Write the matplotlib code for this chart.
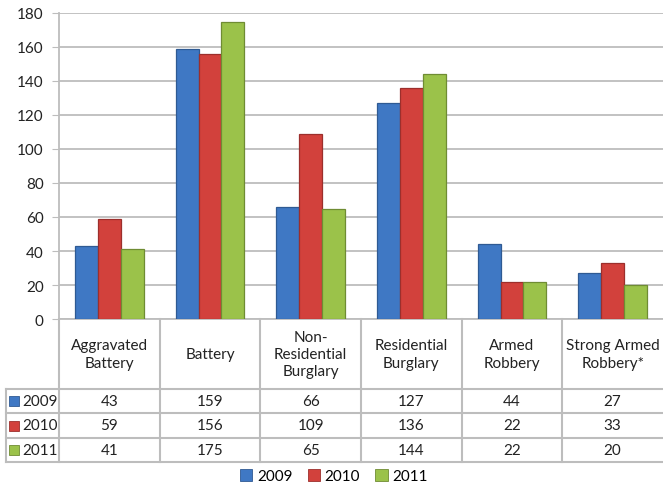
import numpy as np
import matplotlib.pyplot as plt
from matplotlib.patches import Rectangle
from matplotlib.lines import Line2D

categories = ["Aggravated\nBattery", "Battery", "Non-\nResidential\nBurglary",
              "Residential\nBurglary", "Armed\nRobbery", "Strong Armed\nRobbery*"]
years = ["2009", "2010", "2011"]
v2009 = [43, 159, 66, 127, 44, 27]
v2010 = [59, 156, 109, 136, 22, 33]
v2011 = [41, 175, 65, 144, 22, 20]
series = [v2009, v2010, v2011]
yticks = [0, 20, 40, 60, 80, 100, 120, 140, 160, 180]

colors = ["#3f78c4", "#d2413c", "#9bc24a"]
edges = ["#2f5a93", "#9c2f2c", "#6f8c33"]
grid_c = "#bdbdbd"

plt.rcParams['font.family'] = ['Lato', 'DejaVu Sans']

W, H = 663, 489
fig = plt.figure(figsize=(W / 100, H / 100), dpi=100)

x0, x1 = 59, 663
ytop, ybot = 14, 320
ax = fig.add_axes([x0 / W, 1 - ybot / H, (x1 - x0) / W, (ybot - ytop) / H])

n = len(categories)
x = np.arange(n) + 0.5
bw = 0.228
for k in range(3):
    ax.bar(x + (k - 1) * bw, series[k], width=bw, color=colors[k],
           edgecolor=edges[k], linewidth=0.9, zorder=3)

ax.set_xlim(0, n)
ax.set_ylim(0, 180)
ax.set_yticks(yticks)
ax.set_xticks([])
ax.tick_params(axis='y', length=5, color=grid_c, labelsize=11, labelcolor="#222222", pad=6)
ax.yaxis.grid(True, color=grid_c, linewidth=1.3, zorder=0)
for s in ["top", "right"]:
    ax.spines[s].set_visible(False)
for s in ["left", "bottom"]:
    ax.spines[s].set_color(grid_c)
    ax.spines[s].set_linewidth(1.3)


def fx(px):
    return px / W


def fy(py):
    return 1 - py / H


def hline(y, xa, xb):
    fig.add_artist(Line2D([fx(xa), fx(xb)], [fy(y), fy(y)], color=grid_c, lw=1.5))


def vline(xp, ya, yb):
    fig.add_artist(Line2D([fx(xp), fx(xp)], [fy(ya), fy(yb)], color=grid_c, lw=1.5))


# data table below the axes
cw = (x1 - x0) / n
rows_y = [390, 414, 439, 463]
tleft = 6
for y in rows_y:
    hline(y, tleft, x1)
for i in range(n):
    vline(x0 + i * cw, ybot, rows_y[-1])
vline(tleft, rows_y[0], rows_y[-1])

for i, c in enumerate(categories):
    fig.text(fx(x0 + (i + 0.5) * cw), fy((ybot + rows_y[0]) / 2), c,
             ha='center', va='center', fontsize=11, color="#222222", linespacing=1.3)

for k in range(3):
    yc = (rows_y[k] + rows_y[k + 1]) / 2
    fig.add_artist(Rectangle((fx(9), fy(yc + 5)), fx(10), 10 / H,
                             facecolor=colors[k], edgecolor=edges[k], lw=0.6))
    fig.text(fx(22), fy(yc), years[k], ha='left', va='center', fontsize=11, color="#222222")
    for i in range(n):
        fig.text(fx(x0 + (i + 0.5) * cw), fy(yc), str(series[k][i]),
                 ha='center', va='center', fontsize=11, color="#222222")

handles = [Rectangle((0, 0), 1, 1, facecolor=colors[k], edgecolor=edges[k], lw=0.6) for k in range(3)]
fig.legend(handles, years, loc='center', bbox_to_anchor=(fx(334), fy(477)), ncol=3,
           frameon=False, fontsize=11, handlelength=0.8, handleheight=0.8,
           handletextpad=0.3, columnspacing=1.0)

fig.savefig("out.png", dpi=100)
